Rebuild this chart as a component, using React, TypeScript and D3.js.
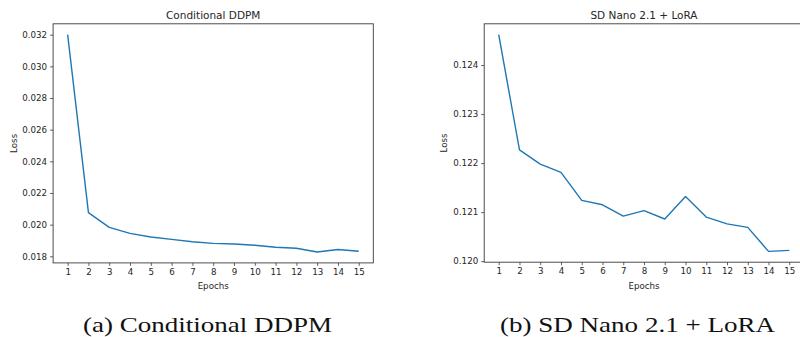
import { useRef, useEffect } from 'react';
import * as d3 from 'd3';

const epochs = [1, 2, 3, 4, 5, 6, 7, 8, 9, 10, 11, 12, 13, 14, 15];
const ddpmLoss = [0.0320, 0.02076, 0.01983, 0.01945, 0.01922, 0.01907, 0.01892, 0.01882, 0.01878, 0.01870, 0.01857, 0.01851, 0.01827, 0.01843, 0.01832];
const sdLoss = [0.12462, 0.12227, 0.12198, 0.12181, 0.12124, 0.12115, 0.12092, 0.12103, 0.12086, 0.12132, 0.12090, 0.12076, 0.12069, 0.12020, 0.12022];
const ddpmTicks = [0.018, 0.020, 0.022, 0.024, 0.026, 0.028, 0.030, 0.032];
const sdTicks = [0.120, 0.121, 0.122, 0.123, 0.124];

const LINE = '#1f77b4';
const INK = '#262626';
const SPINE = '#3a3a3a';
const SANS = '"DejaVu Sans", sans-serif';
const SERIF = '"Liberation Serif", "DejaVu Serif", serif';

interface Panel {
  title: string;
  caption: string;
  values: number[];
  ticks: number[];
  fmt: string;
  box: { left: number; right: number; top: number; bottom: number };
  ylabelX: number;
  cap: { cx: number; width: number };
}

const panels: Panel[] = [
  {
    title: 'Conditional DDPM', caption: '(a) Conditional DDPM',
    values: ddpmLoss, ticks: ddpmTicks, fmt: '.3f',
    box: { left: 53.1, right: 373.3, top: 23.8, bottom: 262.9 },
    ylabelX: 13.5,
    cap: { cx: 207.5, width: 249 },
  },
  {
    title: 'SD Nano 2.1 + LoRA', caption: '(b) SD Nano 2.1 + LoRA',
    values: sdLoss, ticks: sdTicks, fmt: '.3f',
    box: { left: 484.2, right: 803.8, top: 23.8, bottom: 262.2 },
    ylabelX: 443.5,
    cap: { cx: 637.5, width: 275 },
  },
];

export default function App() {
  const ref = useRef<SVGSVGElement>(null);

  useEffect(() => {
    const svg = d3.select(ref.current);
    svg.selectAll('*').remove();
    svg.append('rect').attr('width', 800).attr('height', 337).attr('fill', '#fff');

    panels.forEach(p => {
      const { box } = p;
      const g = svg.append('g');

      // matplotlib-style 5% margins
      const span = epochs[epochs.length - 1] - epochs[0];
      const xs = d3.scaleLinear()
        .domain([epochs[0] - 0.05 * span, epochs[epochs.length - 1] + 0.05 * span])
        .range([box.left, box.right]);
      const [lo, hi] = d3.extent(p.values) as [number, number];
      const pad = (hi - lo) * 0.05;
      const ys = d3.scaleLinear().domain([lo - pad, hi + pad]).range([box.bottom, box.top]);

      // line
      g.append('path').datum(p.values)
        .attr('fill', 'none').attr('stroke', LINE).attr('stroke-width', 1.4)
        .attr('stroke-linejoin', 'round')
        .attr('d', d3.line<number>().x((_, i) => xs(epochs[i])).y(d => ys(d)));

      // x axis
      const xa = g.append('g').attr('transform', `translate(0,${box.bottom})`)
        .call(d3.axisBottom(xs).tickValues(epochs).tickFormat(d3.format('d')).tickSize(3).tickPadding(3));
      xa.select('.domain').remove();

      // y axis
      const ya = g.append('g').attr('transform', `translate(${box.left},0)`)
        .call(d3.axisLeft(ys).tickValues(p.ticks).tickFormat(d3.format(p.fmt)).tickSize(3).tickPadding(3));
      ya.select('.domain').remove();

      [xa, ya].forEach(a => {
        a.selectAll('text').attr('fill', INK).style('font-family', SANS).style('font-size', '8.7px');
        a.selectAll('line').attr('stroke', SPINE).attr('stroke-width', 0.8);
      });

      // frame
      g.append('rect')
        .attr('x', box.left).attr('y', box.top)
        .attr('width', box.right - box.left).attr('height', box.bottom - box.top)
        .attr('fill', 'none').attr('stroke', SPINE).attr('stroke-width', 0.9);

      // labels
      const mid = (box.left + box.right) / 2;
      g.append('text').attr('x', mid).attr('y', 19)
        .attr('text-anchor', 'middle').attr('fill', INK)
        .style('font-family', SANS).style('font-size', '10.5px').text(p.title);
      g.append('text').attr('x', mid).attr('y', 289)
        .attr('text-anchor', 'middle').attr('fill', INK)
        .style('font-family', SANS).style('font-size', '8.7px').text('Epochs');
      const ymid = (box.top + box.bottom) / 2;
      g.append('text')
        .attr('transform', `translate(${p.ylabelX + 3},${ymid}) rotate(-90)`)
        .attr('text-anchor', 'middle').attr('fill', INK)
        .style('font-family', SANS).style('font-size', '8.7px').text('Loss');

      // caption
      g.append('text').attr('x', p.cap.cx).attr('y', 332)
        .attr('text-anchor', 'middle').attr('fill', '#111')
        .attr('textLength', p.cap.width).attr('lengthAdjust', 'spacingAndGlyphs')
        .style('font-family', SERIF).style('font-size', '21px').text(p.caption);
    });
  }, []);

  return (
    <div style={{ position: 'absolute', left: 0, top: 0 }}>
      <svg ref={ref} width={800} height={337} style={{ display: 'block' }} />
    </div>
  );
}
